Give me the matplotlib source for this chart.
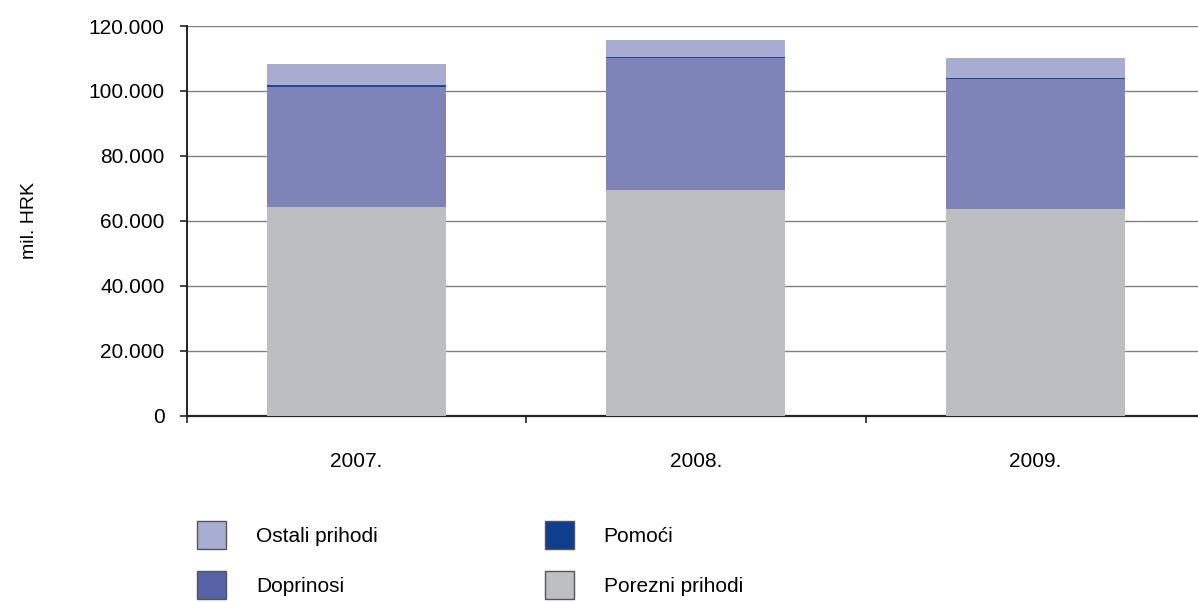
import matplotlib.pyplot as plt
from matplotlib.patches import Patch
from matplotlib.ticker import FuncFormatter, FixedLocator

years = ["2007.", "2008.", "2009."]
porezni = [64200, 69400, 63550]
doprinosi = [37100, 40700, 40000]
pomoci = [600, 400, 500]
ostali = [6400, 5150, 6050]

plt.rcParams['font.family'] = ['Liberation Sans Narrow', 'Liberation Sans', 'DejaVu Sans']
plt.rcParams['font.size'] = 15

fig = plt.figure(figsize=(11.98, 6.03), dpi=100)
ax = fig.add_axes([186.7 / 1198, 1 - 415.7 / 603, 1 - 186.7 / 1198, (415.7 - 26) / 603])

x = list(range(len(years)))
w = 0.527
b1 = porezni
b2 = [a + b for a, b in zip(b1, doprinosi)]
b3 = [a + b for a, b in zip(b2, pomoci)]

ax.bar(x, porezni, w, color="#BDBEC2", zorder=3)
ax.bar(x, doprinosi, w, bottom=b1, color="#7E84B8", zorder=3)
ax.bar(x, pomoci, w, bottom=b2, color="#1D4894", zorder=3)
ax.bar(x, ostali, w, bottom=b3, color="#A9ACD1", zorder=3)

ax.set_ylim(0, 120000)
ax.set_xlim(-0.5, 2.479)
ax.set_yticks(range(0, 120001, 20000))
ax.yaxis.set_major_formatter(FuncFormatter(lambda v, p: f"{int(v):,}".replace(",", ".")))
ax.grid(axis="y", color="#808080", linewidth=1, zorder=0)

ax.set_xticks(x)
ax.set_xticklabels(years)
ax.tick_params(axis="x", which="major", length=0, pad=26)
ax.xaxis.set_minor_locator(FixedLocator([-0.5, 0.5, 1.5]))
ax.tick_params(axis="x", which="minor", length=5, width=1.2, color="#222222")
ax.tick_params(axis="y", length=5, width=1.2, color="#222222", pad=11)

for s in ["top", "right"]:
    ax.spines[s].set_visible(False)
ax.spines["left"].set_linewidth(1.4)
ax.spines["bottom"].set_linewidth(1.6)
ax.spines["left"].set_color("#222222")
ax.spines["bottom"].set_color("#222222")

ax.set_ylabel("mil. HRK", labelpad=36, fontsize=14)

handles = [
    Patch(facecolor="#A8ADD2", edgecolor="#555555", label="Ostali prihodi"),
    Patch(facecolor="#5762A6", edgecolor="#555555", label="Doprinosi"),
    Patch(facecolor="#0F3F8C", edgecolor="#555555", label="Pomoći"),
    Patch(facecolor="#BEBFC3", edgecolor="#555555", label="Porezni prihodi"),
]
fig.legend(handles=handles, ncol=2, loc="upper left",
           bbox_to_anchor=(197 / 1198, 1 - 521 / 603), frameon=False,
           borderpad=0, borderaxespad=0, handlelength=1.4, handleheight=1.69,
           handletextpad=1.44, columnspacing=8.0, labelspacing=1.06)

plt.savefig("out.png", dpi=100)
